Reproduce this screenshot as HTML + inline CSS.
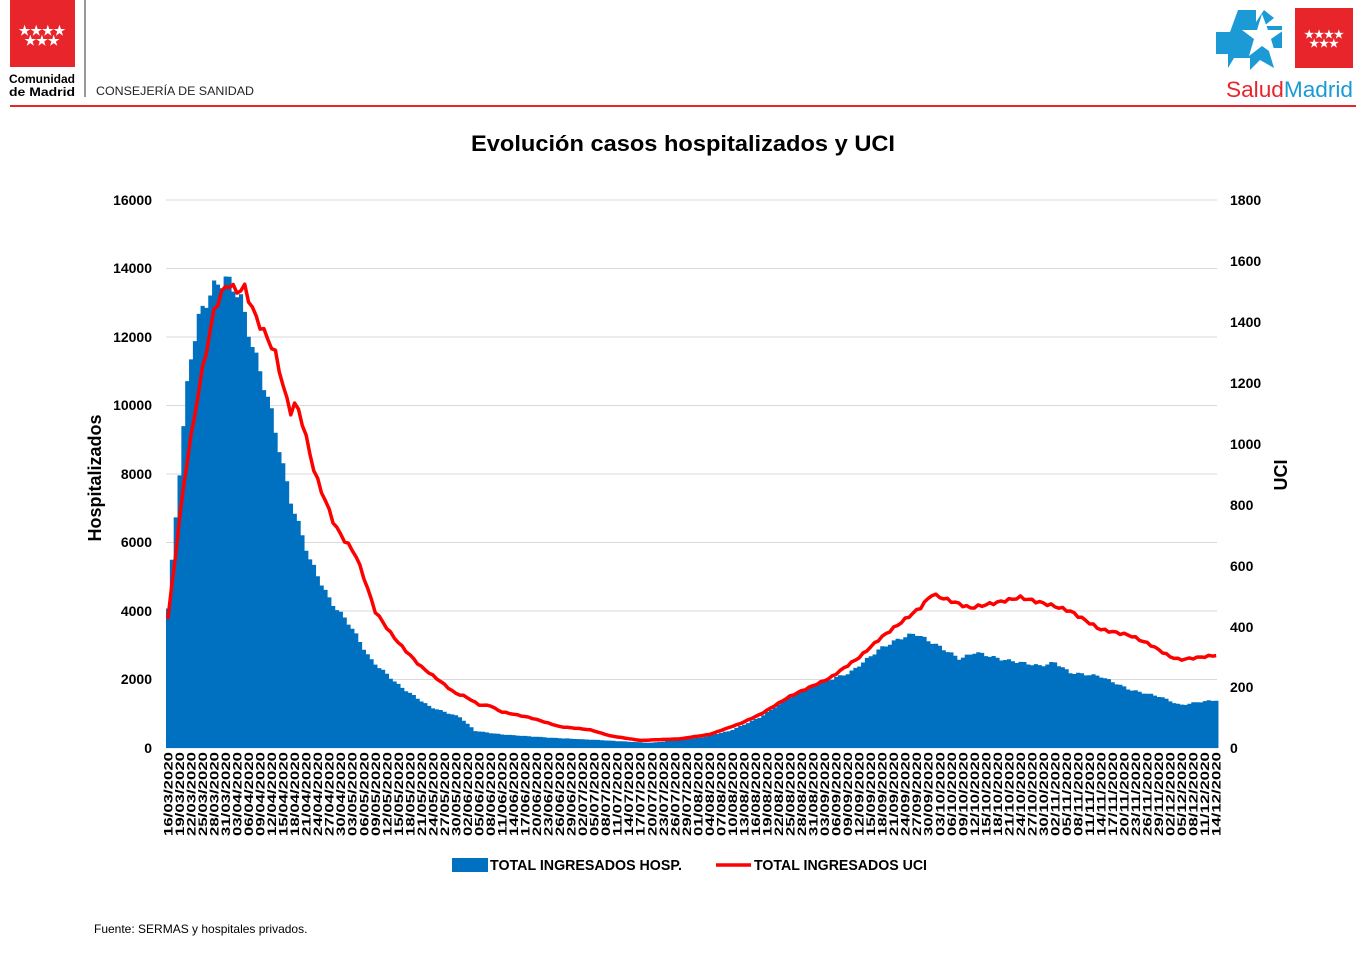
<!DOCTYPE html>
<html><head><meta charset="utf-8"><style>
body{margin:0;background:#fff;width:1366px;height:958px;overflow:hidden;font-family:"Liberation Sans",sans-serif}
svg{position:absolute;left:0;top:0}
</style></head><body>
<svg id="s" width="1366" height="958" xmlns="http://www.w3.org/2000/svg" font-family="Liberation Sans, sans-serif">
<rect x="10" y="0" width="65" height="67" fill="#e8252a"/>
<g fill="#fff" font-size="13" font-weight="bold" text-anchor="middle"><text x="42" y="35">★★★★</text><text x="42" y="45">★★★</text></g>
<text x="9" y="83" font-size="11.5" font-weight="bold" textLength="66" lengthAdjust="spacingAndGlyphs">Comunidad</text>
<text x="9" y="96" font-size="11.5" font-weight="bold" textLength="66" lengthAdjust="spacingAndGlyphs">de Madrid</text>
<line x1="85" y1="0" x2="85" y2="97" stroke="#333" stroke-width="1"/>
<text x="96" y="95" font-size="12" fill="#222" textLength="158" lengthAdjust="spacingAndGlyphs">CONSEJERÍA DE SANIDAD</text>
<line x1="10" y1="106" x2="1356" y2="106" stroke="#e8252a" stroke-width="2"/>
<path d="M1238 10h18v12l8-12 10 8-10 8h18v22h-14l6 20-14-8-10 10v-12h-16l-6 10v-14h-12v-22h14z" fill="#1b9ad6"/>
<path d="M1262 14l6 16h16l-13 9 5 17-14-10-13 10 5-17-12-9h15z" fill="#fff"/>
<rect x="1295" y="8" width="58" height="60" fill="#e8252a"/>
<g fill="#fff" font-size="11" font-weight="bold" text-anchor="middle"><text x="1324" y="38">★★★★</text><text x="1324" y="47">★★★</text></g>
<text x="1226" y="97" font-size="22" textLength="127" lengthAdjust="spacingAndGlyphs"><tspan fill="#e8252a">Salud</tspan><tspan fill="#1b9ad6">Madrid</tspan></text>
<text x="683" y="151" font-size="22" font-weight="bold" text-anchor="middle" textLength="424" lengthAdjust="spacingAndGlyphs">Evolución casos hospitalizados y UCI</text>
<g stroke="#d9d9d9" stroke-width="1">
<line x1="166" x2="1217" y1="200" y2="200"/><line x1="166" x2="1217" y1="268.5" y2="268.5"/><line x1="166" x2="1217" y1="337" y2="337"/><line x1="166" x2="1217" y1="405.5" y2="405.5"/><line x1="166" x2="1217" y1="474" y2="474"/><line x1="166" x2="1217" y1="542.5" y2="542.5"/><line x1="166" x2="1217" y1="611" y2="611"/><line x1="166" x2="1217" y1="679.5" y2="679.5"/><line x1="166" x2="1217" y1="748" y2="748"/>
</g>
<g font-size="14" font-weight="bold" text-anchor="end">
<text x="152" y="205">16000</text><text x="152" y="273">14000</text><text x="152" y="342">12000</text><text x="152" y="410">10000</text><text x="152" y="479">8000</text><text x="152" y="547">6000</text><text x="152" y="616">4000</text><text x="152" y="684">2000</text><text x="152" y="753">0</text>
</g>
<g font-size="14" font-weight="bold">
<text x="1230" y="205">1800</text><text x="1230" y="266">1600</text><text x="1230" y="327">1400</text><text x="1230" y="388">1200</text><text x="1230" y="449">1000</text><text x="1230" y="510">800</text><text x="1230" y="571">600</text><text x="1230" y="632">400</text><text x="1230" y="692">200</text><text x="1230" y="753">0</text>
</g>
<text transform="translate(101,478) rotate(-90)" font-size="18" font-weight="bold" text-anchor="middle">Hospitalizados</text>
<text transform="translate(1287,475) rotate(-90)" font-size="18" font-weight="bold" text-anchor="middle">UCI</text>
<g id="bars" fill="#0070c0"></g>
<polyline id="uci" fill="none" stroke="#f00" stroke-width="3.5" stroke-linejoin="round"/>
<g id="lbl" font-size="12" font-weight="bold">
<text>16/03/2020</text><text>19/03/2020</text><text>22/03/2020</text><text>25/03/2020</text><text>28/03/2020</text><text>31/03/2020</text><text>03/04/2020</text><text>06/04/2020</text><text>09/04/2020</text><text>12/04/2020</text><text>15/04/2020</text><text>18/04/2020</text><text>21/04/2020</text><text>24/04/2020</text><text>27/04/2020</text><text>30/04/2020</text><text>03/05/2020</text><text>06/05/2020</text><text>09/05/2020</text><text>12/05/2020</text><text>15/05/2020</text><text>18/05/2020</text><text>21/05/2020</text><text>24/05/2020</text><text>27/05/2020</text><text>30/05/2020</text><text>02/06/2020</text><text>05/06/2020</text><text>08/06/2020</text><text>11/06/2020</text><text>14/06/2020</text><text>17/06/2020</text><text>20/06/2020</text><text>23/06/2020</text><text>26/06/2020</text><text>29/06/2020</text><text>02/07/2020</text><text>05/07/2020</text><text>08/07/2020</text><text>11/07/2020</text><text>14/07/2020</text><text>17/07/2020</text><text>20/07/2020</text><text>23/07/2020</text><text>26/07/2020</text><text>29/07/2020</text><text>01/08/2020</text><text>04/08/2020</text><text>07/08/2020</text><text>10/08/2020</text><text>13/08/2020</text><text>16/08/2020</text><text>19/08/2020</text><text>22/08/2020</text><text>25/08/2020</text><text>28/08/2020</text><text>31/08/2020</text><text>03/09/2020</text><text>06/09/2020</text><text>09/09/2020</text><text>12/09/2020</text><text>15/09/2020</text><text>18/09/2020</text><text>21/09/2020</text><text>24/09/2020</text><text>27/09/2020</text><text>30/09/2020</text><text>03/10/2020</text><text>06/10/2020</text><text>09/10/2020</text><text>12/10/2020</text><text>15/10/2020</text><text>18/10/2020</text><text>21/10/2020</text><text>24/10/2020</text><text>27/10/2020</text><text>30/10/2020</text><text>02/11/2020</text><text>05/11/2020</text><text>08/11/2020</text><text>11/11/2020</text><text>14/11/2020</text><text>17/11/2020</text><text>20/11/2020</text><text>23/11/2020</text><text>26/11/2020</text><text>29/11/2020</text><text>02/12/2020</text><text>05/12/2020</text><text>08/12/2020</text><text>11/12/2020</text><text>14/12/2020</text>
</g>
<rect x="452" y="858" width="36" height="14" fill="#0070c0"/>
<text x="490" y="870" font-size="15" font-weight="bold" textLength="192" lengthAdjust="spacingAndGlyphs">TOTAL INGRESADOS HOSP.</text>
<line x1="716" y1="865" x2="751" y2="865" stroke="#f00" stroke-width="3.5"/>
<text x="754" y="870" font-size="15" font-weight="bold" textLength="173" lengthAdjust="spacingAndGlyphs">TOTAL INGRESADOS UCI</text>
<text x="94" y="933" font-size="12">Fuente: SERMAS y hospitales privados.</text>
</svg>
<script>
var X0=166,DW=3.84,N=274;
function interp(pts,x){for(var i=1;i<pts.length;i++){if(x<=pts[i][0]){var a=pts[i-1],b=pts[i];return a[1]+(b[1]-a[1])*(x-a[0])/(b[0]-a[0]);}}return pts[pts.length-1][1];}
var H=[[166,3400],[178,7600],[189,11200],[200,12700],[215,13500],[226,13700],[240,13200],[250,12000],[270,10000],[290,7300],[310,5500],[330,4300],[350,3600],[370,2600],[400,1800],[430,1200],[460,900],[475,500],[500,400],[550,300],[600,230],[650,150],[700,300],[730,500],[760,900],[790,1500],[820,1900],[850,2200],[880,2900],[900,3200],[915,3350],[940,2950],[960,2600],[975,2800],[1000,2600],[1040,2400],[1055,2500],[1070,2200],[1100,2100],[1130,1700],[1160,1500],[1180,1250],[1200,1350],[1217,1400]];
var U=[[166,370],[185,900],[200,1200],[215,1450],[228,1530],[235,1500],[245,1510],[255,1420],[275,1300],[290,1100],[295,1130],[300,1100],[315,900],[335,730],[345,680],[355,640],[365,550],[375,450],[390,380],[400,340],[420,270],[440,220],[455,180],[465,170],[480,140],[490,140],[500,120],[530,100],[560,70],[590,60],[610,40],[640,25],[680,30],[710,45],[740,80],[760,110],[790,170],[810,200],[830,230],[860,300],[880,360],[900,410],[920,460],[932,505],[945,490],[970,460],[1000,480],[1020,495],[1050,470],[1070,450],[1100,390],[1130,370],[1150,340],[1170,300],[1180,290],[1217,305]];
var ns="http://www.w3.org/2000/svg",g=document.getElementById('bars'),d="";
for(var i=0;i<N;i++){var x=X0+i*DW,v=interp(H,x+DW/2)*(1+0.015*Math.sin(i*1.7));var h=v/16000*548;d+="M"+x.toFixed(2)+" 748V"+(748-h).toFixed(1)+"h"+(DW+0.3).toFixed(2)+"V748z";}
var p=document.createElementNS(ns,'path');p.setAttribute('d',d);g.appendChild(p);
var pts=[];for(var i=0;i<N;i++){var x=X0+(i+0.5)*DW,v=interp(U,x)*(1+0.01*Math.sin(i*2.3));pts.push(x.toFixed(1)+","+(748-v/1800*548).toFixed(1));}
document.getElementById('uci').setAttribute('points',pts.join(' '));
var ts=document.getElementById('lbl').children;
for(var i=0;i<ts.length;i++){var x=X0+(3*i+0.5)*DW+4.5;ts[i].setAttribute('transform','translate('+x.toFixed(1)+',752) rotate(-90)');ts[i].setAttribute('text-anchor','end');ts[i].setAttribute('textLength','84');ts[i].setAttribute('lengthAdjust','spacingAndGlyphs');}
</script>
</body></html>
